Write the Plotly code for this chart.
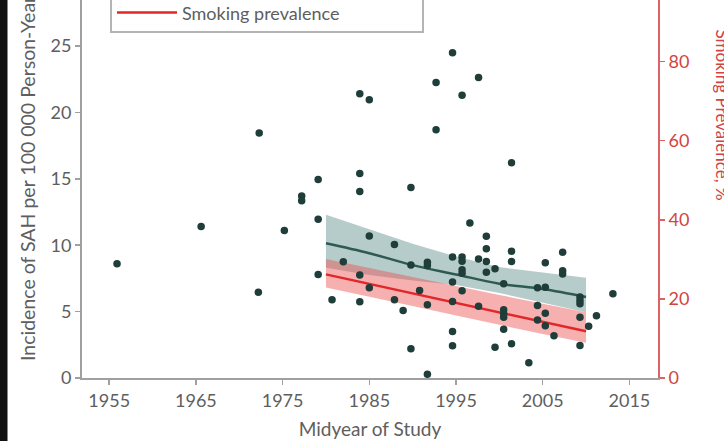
import plotly.graph_objects as go

# ---- data ----
study_year = [1955.9, 1965.6, 1972.2, 1972.3, 1975.2, 1977.2, 1977.2, 1979.1, 1979.1, 1979.1,
              1980.7, 1982.0, 1983.9, 1983.9, 1983.9, 1983.9, 1983.9, 1985.0, 1985.0, 1985.0,
              1987.9, 1987.9, 1988.9, 1989.8, 1989.8, 1989.8, 1990.8, 1991.7, 1991.7, 1991.7,
              1991.7, 1992.7, 1992.7, 1994.6, 1994.6, 1994.6, 1994.6, 1994.6, 1994.6, 1995.7,
              1995.7, 1995.7, 1995.7, 1995.7, 1995.7, 1996.6, 1997.6, 1997.6, 1997.6, 1998.5,
              1998.5, 1998.5, 1998.5, 1999.5, 1999.5, 2000.5, 2000.5, 2000.5, 2000.5, 2000.5,
              2001.4, 2001.4, 2001.4, 2001.4, 2003.4, 2004.4, 2004.4, 2004.4, 2005.3, 2005.3,
              2005.3, 2005.3, 2006.3, 2007.3, 2007.3, 2007.3, 2009.3, 2009.3, 2009.3, 2009.3,
              2009.3, 2010.3, 2011.2, 2013.1]
study_incidence = [8.6, 11.4, 6.45, 18.45, 11.1, 13.7, 13.35, 14.95, 11.95, 7.8,
                   5.9, 8.75, 21.4, 15.4, 14.05, 7.75, 5.75, 20.95, 10.7, 6.8,
                   10.05, 5.9, 5.08, 14.35, 8.5, 2.2, 6.58, 8.72, 8.47, 5.52,
                   0.28, 22.25, 18.7, 24.5, 9.12, 7.22, 5.76, 3.5, 2.42, 21.3,
                   9.12, 8.8, 8.15, 7.88, 6.57, 11.68, 22.63, 8.97, 5.4, 10.68,
                   9.73, 8.77, 7.97, 8.22, 2.32, 7.09, 5.13, 4.83, 4.58, 3.67,
                   16.2, 9.55, 8.77, 2.57, 1.15, 6.8, 5.46, 4.36, 8.67, 6.84,
                   4.88, 3.93, 3.18, 9.47, 8.08, 7.84, 6.09, 5.84, 5.6, 4.58,
                   2.45, 3.9, 4.69, 6.34]

fit_year = [1980, 1985, 1990, 1995, 2000, 2005, 2010]
sah_fit = [10.15, 9.4, 8.5, 7.8, 7.1, 6.7, 6.1]
sah_upper = [12.3, 11.2, 10.1, 9.15, 8.35, 7.95, 7.55]
sah_lower = [8.3, 7.75, 7.35, 7.0, 6.4, 5.7, 4.95]

smoking_fit = [26.2, 23.8, 21.4, 19.0, 16.6, 14.2, 11.8]
smoking_upper = [30.1, 27.8, 25.5, 23.2, 21.0, 18.8, 16.6]
smoking_lower = [22.9, 20.6, 18.2, 15.8, 13.4, 11.1, 8.9]

x_ticks = [1955, 1965, 1975, 1985, 1995, 2005, 2015]
left_ticks = [0, 5, 10, 15, 20, 25]
right_ticks = [0, 20, 40, 60, 80]

# ---- style ----
FONT = "Lato"
GRAY_TXT = "#5e5e5e"
GRAY_AX = "#a0a0a0"
RED_AX = "#dc6266"
RED_TXT = "#d2443f"
DOT = "#1f3d39"

L, R, T, B = 82, 66, 0, 63
W, H = 724, 441
PW, PH = W - L - R, H - T - B


def px(xp):
    return (xp - L) / PW


def py(yp):
    return 1 - (yp - T) / PH


fig = go.Figure()

# SAH band + fit (left axis)
fig.add_trace(go.Scatter(x=fit_year, y=sah_lower, mode="lines", line=dict(width=0),
                         showlegend=False, hoverinfo="skip"))
fig.add_trace(go.Scatter(x=fit_year, y=sah_upper, mode="lines", line=dict(width=0),
                         fill="tonexty", fillcolor="rgba(92,142,140,0.45)",
                         showlegend=False, hoverinfo="skip"))
# legend entry name padded with no-break spaces so the (cropped) legend box gets its width
fig.add_trace(go.Scatter(x=fit_year, y=sah_fit, mode="lines",
                         name="SAH incidence" + "\u00a0" * 26,
                         line=dict(color="#2f5a54", width=2.5, shape="spline")))

# Smoking band + fit (right axis)
fig.add_trace(go.Scatter(x=fit_year, y=smoking_lower, mode="lines", line=dict(width=0),
                         yaxis="y2", showlegend=False, hoverinfo="skip"))
fig.add_trace(go.Scatter(x=fit_year, y=smoking_upper, mode="lines", line=dict(width=0),
                         fill="tonexty", fillcolor="rgba(238,80,80,0.45)", yaxis="y2",
                         showlegend=False, hoverinfo="skip"))
fig.add_trace(go.Scatter(x=fit_year, y=smoking_fit, mode="lines", name="Smoking prevalence",
                         line=dict(color="#e2272a", width=2.5), yaxis="y2"))

# study points (drawn on top via an overlaying copy of the left axis)
fig.add_trace(go.Scatter(x=study_year, y=study_incidence, mode="markers", yaxis="y3",
                         marker=dict(color=DOT, size=7.5), showlegend=False))

y_top = PH / 13.28
y2_top = PH / 3.956

fig.update_layout(
    width=W, height=H,
    margin=dict(l=L, r=R, t=T, b=B, autoexpand=False),
    paper_bgcolor="rgba(0,0,0,0)", plot_bgcolor="white",
    font=dict(family=FONT, size=18, color=GRAY_TXT),
    xaxis=dict(range=[1951.86, 2018.3], tickvals=x_ticks, showgrid=False, zeroline=False,
               showline=True, linecolor=GRAY_AX, linewidth=2, ticks="outside", ticklen=5,
               tickcolor=GRAY_AX, tickwidth=1.5, tickfont=dict(size=18, color=GRAY_TXT),
               title=dict(text="Midyear of Study", font=dict(size=19, color=GRAY_TXT), standoff=13)),
    yaxis=dict(range=[0, y_top], tickvals=left_ticks, showgrid=False, zeroline=False,
               showline=True, linecolor=GRAY_AX, linewidth=2, ticks="outside", ticklen=5,
               tickcolor=GRAY_AX, tickwidth=1.5, tickfont=dict(size=18, color=GRAY_TXT)),
    yaxis2=dict(range=[0, y2_top], tickvals=right_ticks, overlaying="y", side="right",
                showgrid=False, zeroline=False, showline=True, linecolor=RED_AX, linewidth=2,
                ticks="outside", ticklen=5, tickcolor=RED_AX, tickwidth=1.5,
                tickfont=dict(size=18, color=RED_TXT)),
    yaxis3=dict(range=[0, y_top], overlaying="y", visible=False),
    legend=dict(x=px(110), y=py(33), xanchor="left", yanchor="bottom", traceorder="normal",
                bgcolor="white", bordercolor="#b4b4b4", borderwidth=2,
                font=dict(size=18, color=GRAY_TXT), itemwidth=60),
    showlegend=True,
)

# dark strip at the left edge of the picture
fig.add_shape(type="rect", xref="paper", yref="paper", x0=px(0), x1=px(7.5), y0=py(H), y1=py(0),
              fillcolor="#111111", line=dict(width=0), layer="above")

# axis titles (cropped at the edges like the reference)
fig.add_annotation(text="Incidence of SAH per 100 000 Person-Years", xref="paper", yref="paper",
                   x=px(27), y=py(363), xanchor="center", yanchor="bottom", textangle=-90,
                   showarrow=False, font=dict(size=19.5, color=GRAY_TXT))
fig.add_annotation(text="Smoking Prevalence, %", xref="paper", yref="paper",
                   x=px(722), y=py(27), xanchor="center", yanchor="top", textangle=90,
                   showarrow=False, font=dict(size=17, color=RED_TXT))

fig.write_html(
    "out.html", config={"staticPlot": True},
    post_script=("document.body.style.margin='0';"
                 "document.body.style.background="
                 "'linear-gradient(to right, #111111 0px, #111111 7.5px, #ffffff 7.5px)';"),
)
